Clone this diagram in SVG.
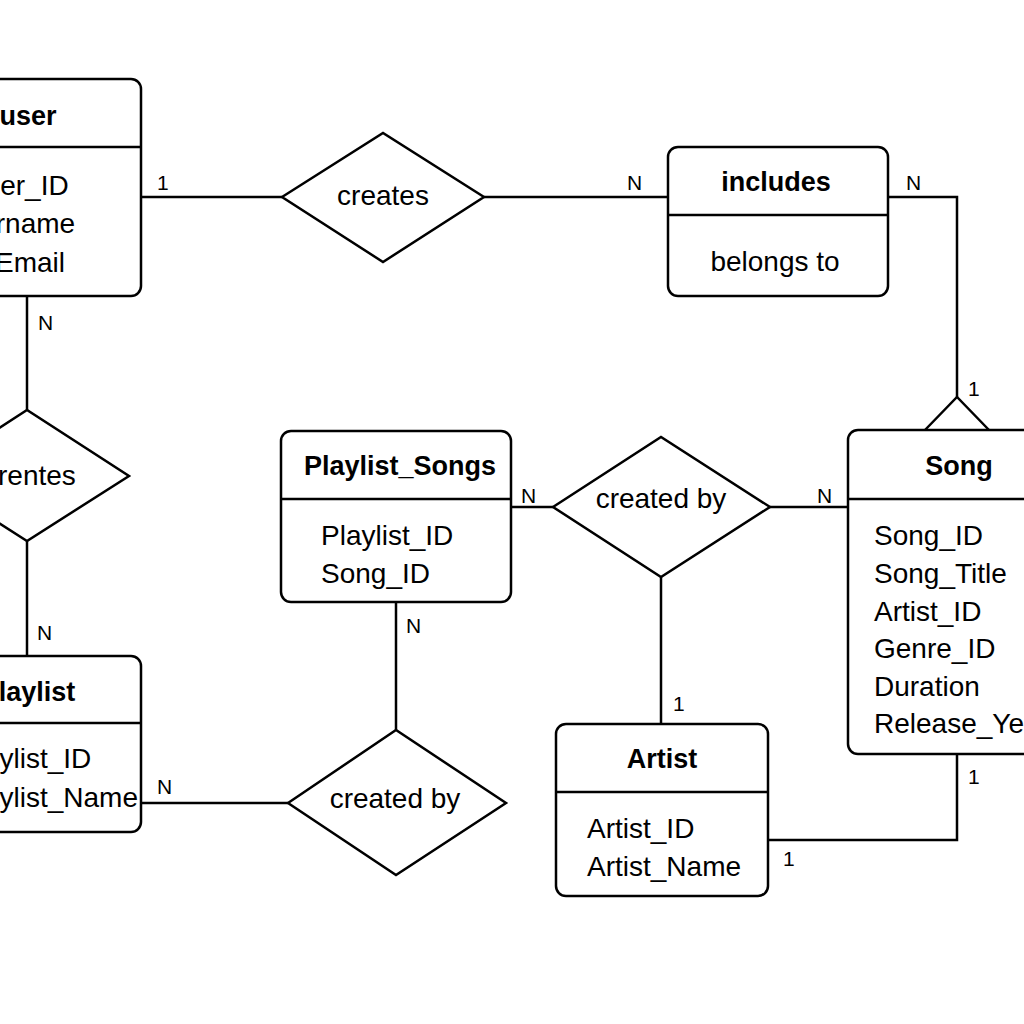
<svg xmlns="http://www.w3.org/2000/svg" width="1024" height="1024" viewBox="0 0 1024 1024">
<style>
.box{fill:#fff;stroke:#000;stroke-width:2.5}
.ln{fill:none;stroke:#000;stroke-width:2.5}
.t{font-family:"Liberation Sans",Arial,sans-serif;font-size:28px;fill:#000}
.b{font-family:"Liberation Sans",Arial,sans-serif;font-size:27px;font-weight:bold;fill:#000}
.c{font-family:"Liberation Sans",Arial,sans-serif;font-size:21px;fill:#000}
.m{text-anchor:middle}
</style>
<rect width="1024" height="1024" fill="#fff"/>
<g id="connectors">
<path class="ln" d="M141 197H282"/>
<path class="ln" d="M484 197H668"/>
<path class="ln" d="M888 197H957V397"/>
<path class="ln" d="M925 430L957 397L989 430"/>
<path class="ln" d="M27 296V410"/>
<path class="ln" d="M27 541V656"/>
<path class="ln" d="M511 507H553"/>
<path class="ln" d="M770 507H848"/>
<path class="ln" d="M661 577V724"/>
<path class="ln" d="M396 602V730"/>
<path class="ln" d="M141 803H288"/>
<path class="ln" d="M957 754V840H768"/>
<text class="c" x="157" y="190">1</text>
<text class="c" x="627" y="190">N</text>
<text class="c" x="906" y="190">N</text>
<text class="c" x="968" y="396">1</text>
<text class="c" x="38" y="330">N</text>
<text class="c" x="37" y="640">N</text>
<text class="c" x="521" y="503">N</text>
<text class="c" x="817" y="503">N</text>
<text class="c" x="673" y="711">1</text>
<text class="c" x="406" y="633">N</text>
<text class="c" x="157" y="794">N</text>
<text class="c" x="968" y="784">1</text>
<text class="c" x="783" y="866">1</text>
</g>
<g id="user">
<rect class="box" x="-85" y="79" width="226" height="217" rx="10"/>
<path class="ln" d="M-85 147H141"/>
<text class="b m" x="28" y="125">user</text>
<text class="t" x="-34" y="195">User_ID</text>
<text class="t" x="-54" y="233">Username</text>
<text class="t" x="-5" y="272">Email</text>
</g>
<g id="creates">
<polygon class="box" points="282,197 383,133 484,197 383,262"/>
<text class="t m" x="383" y="205">creates</text>
</g>
<g id="includes">
<rect class="box" x="668" y="147" width="220" height="149" rx="10"/>
<path class="ln" d="M668 215H888"/>
<text class="b m" x="776" y="191">includes</text>
<text class="t m" x="775" y="271">belongs to</text>
</g>
<g id="user-playlist-rel">
<polygon class="box" points="-75,476 27,410 129,476 27,541"/>
<text class="t" x="-2" y="485">rentes</text>
</g>
<g id="playlist">
<rect class="box" x="-85" y="656" width="226" height="176" rx="10"/>
<path class="ln" d="M-85 723H141"/>
<text class="b m" x="28" y="701">Playlist</text>
<text class="t" x="-41" y="768">Playlist_ID</text>
<text class="t" x="-41" y="807">Playlist_Name</text>
</g>
<g id="playlist-songs">
<rect class="box" x="281" y="431" width="230" height="171" rx="10"/>
<path class="ln" d="M281 499H511"/>
<text class="b m" x="400" y="475">Playlist_Songs</text>
<text class="t" x="321" y="545">Playlist_ID</text>
<text class="t" x="321" y="583">Song_ID</text>
</g>
<g id="created-by-1">
<polygon class="box" points="553,507 661,437 770,507 661,577"/>
<text class="t m" x="661" y="508">created by</text>
</g>
<g id="created-by-2">
<polygon class="box" points="288,803 396,730 506,803 396,875"/>
<text class="t m" x="395" y="808">created by</text>
</g>
<g id="song">
<rect class="box" x="848" y="430" width="222" height="324" rx="10"/>
<path class="ln" d="M848 499H1070"/>
<text class="b m" x="959" y="475">Song</text>
<text class="t" x="874" y="545">Song_ID</text>
<text class="t" x="874" y="583">Song_Title</text>
<text class="t" x="874" y="621">Artist_ID</text>
<text class="t" x="874" y="658">Genre_ID</text>
<text class="t" x="874" y="696">Duration</text>
<text class="t" x="874" y="733">Release_Year</text>
</g>
<g id="artist">
<rect class="box" x="556" y="724" width="212" height="172" rx="10"/>
<path class="ln" d="M556 792H768"/>
<text class="b m" x="662" y="768">Artist</text>
<text class="t" x="587" y="838">Artist_ID</text>
<text class="t" x="587" y="876">Artist_Name</text>
</g>
</svg>
